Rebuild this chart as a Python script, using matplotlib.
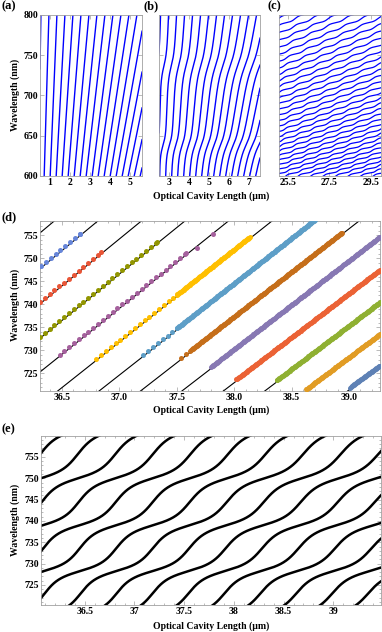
import numpy as np
import matplotlib
matplotlib.use("Agg")
import matplotlib.pyplot as plt
from matplotlib.ticker import MultipleLocator, FixedLocator

plt.rcParams["font.family"] = ["Liberation Serif", "DejaVu Serif"]
plt.rcParams["font.weight"] = "bold"

W, H = 382, 632
BLUE = "#0000ff"
FRAME = "#a0a0a0"

# ---- panel (a): plain cavity orders, lambda = 2000 * L / n
a_xlim = (0.5, 5.6)
a_orders = 1.364 + np.arange(18)

# ---- panel (b): orders with a slow mirror-phase ripple
b_xlim = (2.48, 7.53)
b_orders = 6.4 + np.arange(20)
b_ripple = dict(A=0.22, r=0.42, C=4761.0, lam_f=638.0)

# ---- panel (c): dense family, flattened by mirror dispersion
c_xlim = (25.08, 29.98)
c_orders = 22.3 + np.arange(40)
c_h = 1 / 1000
c_D = 0.06
c_ripple = dict(A=0.35, r=0.4, C=61250.0, lam_f=700.0)

# ---- panel (d): measured resonances on top of the cavity orders
d_xlim = (36.31, 39.27)
d_ylim = (721.2, 758.1)
d_orders = np.arange(96, 109) + 0.12
d_series_m = [97, 98, 99, 100, 101, 102, 103, 104, 105, 106, 107, 108]
d_start = [36.32, 36.31, 36.31, 36.48, 36.80, 37.21, 37.54, 37.80, 38.02, 38.37, 38.63, 39.01]
d_switch = [36.66, 36.84, 37.33, 37.58, 37.50, 37.50, 37.62, 37.80, 38.02, 38.37, 38.63, 39.01]
d_end = [36.66, 36.84, 37.33, 37.58, 38.14, 38.70, 38.94, 39.27, 39.27, 39.27, 39.27, 39.27]
d_colors = ["#6685D9", "#E95536", "#929600", "#A5609D", "#FFBF00", "#5D9EC7",
            "#C56E1A", "#8778B3", "#EB6235", "#8FB032", "#E19C24", "#5E81B5"]
d_stray_L = [37.68, 37.82]
d_stray_lam = [752.3, 755.2]
d_sparse_step = 0.042
d_dense_step = 0.006
d_offset = 0.35

# ---- panel (e): simulated orders with a fast ripple
e_xlim = (36.06, 39.48)
e_ylim = (720.3, 759.9)
e_orders = 96.16 + np.arange(-3, 17)
e_D = 0.0175
e_ripple = dict(A=0.33, r=0.37, C=50223.0, lam_f=750.0)


def cavity_length(n, lam, h=1 / 2000, D=0.0, lam_ref=700.0, A=0.0, r=0.0, C=1.0, lam_f=700.0):
    L = n * lam * h + D * (lam - lam_ref)
    if A:
        psi = 2 * np.pi * C * (1 / lam_f - 1 / lam)
        L = L + A * (2 / np.pi) * np.arctan2(r * np.sin(psi), 1 - r * np.cos(psi))
    return L


def add_axes(fig, x0, y0, x1, y1):
    return fig.add_axes([x0 / W, 1 - y1 / H, (x1 - x0) / W, (y1 - y0) / H])


def style(ax, xlim, ylim):
    ax.set_xlim(xlim)
    ax.set_ylim(ylim)
    for s in ax.spines.values():
        s.set_color(FRAME)
        s.set_linewidth(0.6)
    ax.tick_params(which="both", direction="in", color=FRAME, width=0.5,
                   labelsize=7, pad=1.5, top=True, right=True)
    ax.tick_params(which="major", length=3)
    ax.tick_params(which="minor", length=1.5)


fig = plt.figure(figsize=(W / 100, H / 100), dpi=100)

lam_top = np.linspace(585, 815, 1500)

# (a)
ax = add_axes(fig, 40, 15, 142, 176)
for n in a_orders:
    ax.plot(cavity_length(n, lam_top), lam_top, color=BLUE, lw=1.0)
style(ax, a_xlim, (600, 800))
ax.xaxis.set_major_locator(FixedLocator([1, 2, 3, 4, 5]))
ax.yaxis.set_major_locator(MultipleLocator(50))

# (b)
ax = add_axes(fig, 159, 15, 260, 176)
for n in b_orders:
    ax.plot(cavity_length(n, lam_top, **b_ripple), lam_top, color=BLUE, lw=1.0)
style(ax, b_xlim, (600, 800))
ax.xaxis.set_major_locator(FixedLocator([3, 4, 5, 6, 7]))
ax.yaxis.set_major_locator(MultipleLocator(50))
ax.set_yticklabels([])

# (c)
ax = add_axes(fig, 279, 15, 381, 176)
for n in c_orders:
    ax.plot(cavity_length(n, lam_top, h=c_h, D=c_D, **c_ripple), lam_top, color=BLUE, lw=0.9)
style(ax, c_xlim, (600, 800))
ax.xaxis.set_major_locator(FixedLocator([25.5, 27.5, 29.5]))
ax.xaxis.set_major_formatter(lambda v, p: f"{v:.1f}")
ax.yaxis.set_major_locator(MultipleLocator(50))
ax.set_yticklabels([])

# (d)
ax = add_axes(fig, 40, 221, 380, 391)
lam_d = np.array([715.0, 765.0])
for n in d_orders:
    ax.plot(cavity_length(n, lam_d), lam_d, color="black", lw=0.8, zorder=2)
for m, s, w, e, c in zip(d_series_m, d_start, d_switch, d_end, d_colors):
    n = m + 0.12
    L = np.concatenate([np.arange(s, w, d_sparse_step), np.arange(w, e + 1e-9, d_dense_step)])
    if L.size == 0:
        continue
    lam = 2000 * L / n + d_offset
    ax.plot(L, lam, "o", color=c, ms=3.6, mec="none", zorder=3)
ax.plot(d_stray_L, d_stray_lam, "o", color=d_colors[3], ms=3.6, mec="none", zorder=3)
style(ax, d_xlim, d_ylim)
ax.xaxis.set_major_locator(MultipleLocator(0.5))
ax.xaxis.set_minor_locator(MultipleLocator(0.1))
ax.xaxis.set_major_formatter(lambda v, p: f"{v:.1f}")
ax.yaxis.set_major_locator(MultipleLocator(5))
ax.yaxis.set_minor_locator(MultipleLocator(1))

# (e)
ax = add_axes(fig, 41, 436, 381, 605)
lam_e = np.linspace(712, 768, 3000)
for n in e_orders:
    ax.plot(cavity_length(n, lam_e, D=e_D, lam_ref=750.0, **e_ripple), lam_e, color="black", lw=1.8)
style(ax, e_xlim, e_ylim)
ax.xaxis.set_major_locator(MultipleLocator(0.5))
ax.xaxis.set_minor_locator(MultipleLocator(0.1))
ax.xaxis.set_major_formatter(lambda v, p: f"{v:g}")
ax.yaxis.set_major_locator(MultipleLocator(5))
ax.yaxis.set_minor_locator(MultipleLocator(1))

# texts
def ftext(x, y, s, **kw):
    fig.text(x / W, 1 - y / H, s, **kw)

for x, y, s in [(1, 6, "(a)"), (143, 6, "(b)"), (267, 6, "(c)"), (2, 217, "(d)"), (1, 429, "(e)")]:
    ftext(x, y, s, fontsize=9, ha="left", va="center")

for y in (95, 305, 520):
    ftext(15, y, "Wavelength (nm)", fontsize=7, rotation=90, ha="center", va="center")
for y in (196, 410, 626):
    ftext(211, y, "Optical Cavity Length (μm)", fontsize=7, ha="center", va="center")

fig.savefig("out.png", dpi=100)
